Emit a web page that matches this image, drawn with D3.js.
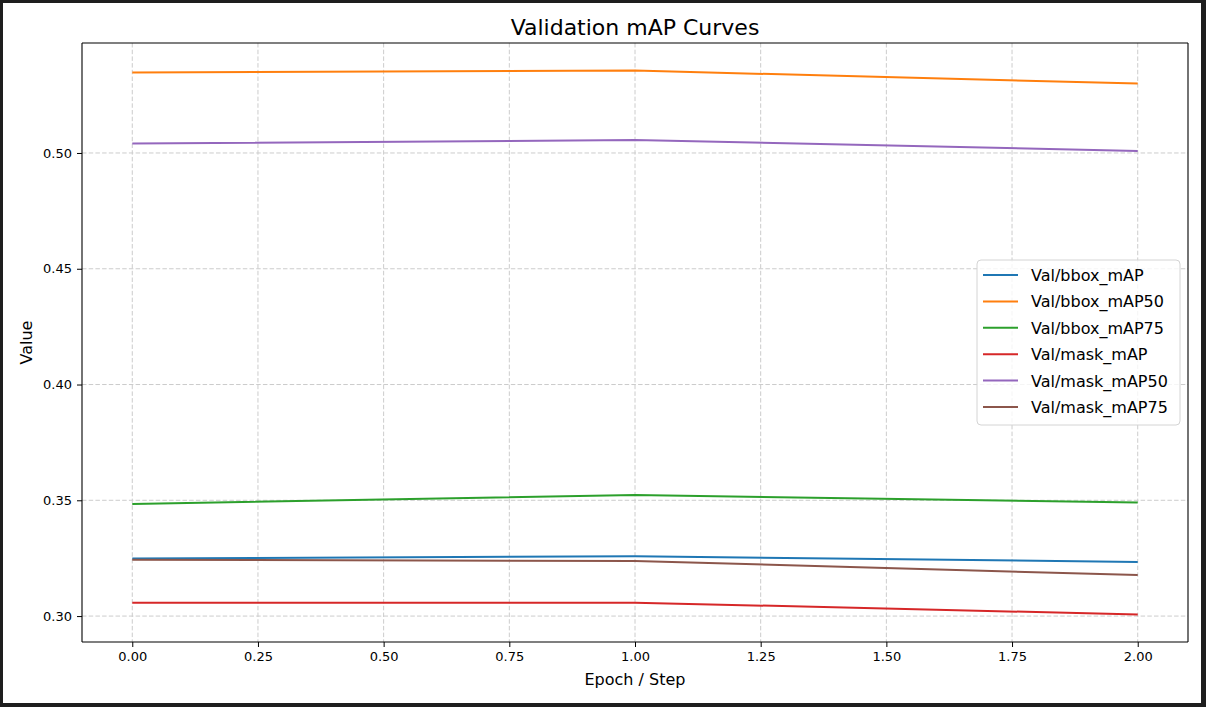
<!DOCTYPE html>
<html>
<head>
<meta charset="utf-8">
<script src="https://cdn.jsdelivr.net/npm/d3@7"></script>
<style>
  html, body { margin: 0; padding: 0; background: #1e1e1e; width: 1206px; height: 707px; overflow: hidden; }
  svg { display: block; position: absolute; left: 3px; top: 3px; background: #ffffff; font-family: "DejaVu Sans", sans-serif; }
</style>
</head>
<body>
<svg id="chart" width="1198" height="700"></svg>
<script>
// Values.
const steps = [0, 1, 2];
const seriesNames = [
  "Val/bbox_mAP", "Val/bbox_mAP50", "Val/bbox_mAP75",
  "Val/mask_mAP", "Val/mask_mAP50", "Val/mask_mAP75"
];
const bboxMAP = [0.3249, 0.3258, 0.3234];
const bboxMAP50 = [0.5348, 0.5356, 0.5300];
const bboxMAP75 = [0.3484, 0.3523, 0.3490];
const maskMAP = [0.3058, 0.3058, 0.3007];
const maskMAP50 = [0.5041, 0.5056, 0.5009];
const maskMAP75 = [0.3243, 0.3238, 0.3177];
const xTicks = [0, 0.25, 0.5, 0.75, 1, 1.25, 1.5, 1.75, 2];
const yTicks = [0.30, 0.35, 0.40, 0.45, 0.50];
const colors = ["#1f77b4", "#ff7f0e", "#2ca02c", "#d62728", "#9467bd", "#8c564b"];

const seriesValues = [bboxMAP, bboxMAP50, bboxMAP75, maskMAP, maskMAP50, maskMAP75];

// svg sits 3px into the page, so page coords minus 3
const margin = { top: 40, bottom: 61, left: 79, right: 13 };
const width = 1198, height = 700;
const innerWidth = width - margin.left - margin.right;
const innerHeight = height - margin.top - margin.bottom;

const svg = d3.select("#chart");

const xScale = d3.scaleLinear().domain([-0.1, 2.1]).range([0, innerWidth]);
const yScale = d3.scaleLinear().domain([0.2888, 0.5475]).range([innerHeight, 0]);

const g = svg.append("g").attr("transform", `translate(${margin.left},${margin.top})`);

// grid
g.append("g")
  .selectAll("line")
  .data(xTicks)
  .join("line")
  .attr("x1", d => xScale(d)).attr("x2", d => xScale(d))
  .attr("y1", 0).attr("y2", innerHeight)
  .attr("stroke", "#cccccc").attr("stroke-width", 1)
  .attr("stroke-dasharray", "4.5,2.2");

g.append("g")
  .selectAll("line")
  .data(yTicks)
  .join("line")
  .attr("x1", 0).attr("x2", innerWidth)
  .attr("y1", d => yScale(d)).attr("y2", d => yScale(d))
  .attr("stroke", "#cccccc").attr("stroke-width", 1)
  .attr("stroke-dasharray", "4.5,2.2");

// lines
const line = d3.line()
  .x((d, i) => xScale(steps[i]))
  .y(d => yScale(d));

g.append("g")
  .selectAll("path")
  .data(seriesValues)
  .join("path")
  .attr("d", d => line(d))
  .attr("fill", "none")
  .attr("stroke", (d, i) => colors[i])
  .attr("stroke-width", 2);

// axes
const xAxis = d3.axisBottom(xScale)
  .tickValues(xTicks)
  .tickFormat(d3.format(".2f"))
  .tickSizeInner(5)
  .tickSizeOuter(0)
  .tickPadding(5);

const yAxis = d3.axisLeft(yScale)
  .tickValues(yTicks)
  .tickFormat(d3.format(".2f"))
  .tickSizeInner(5)
  .tickSizeOuter(0)
  .tickPadding(5);

const gx = g.append("g").attr("transform", `translate(0,${innerHeight})`).call(xAxis);
const gy = g.append("g").call(yAxis);

[gx, gy].forEach(ax => {
  ax.attr("font-family", null).attr("font-size", null);
  ax.select(".domain").remove();
  ax.selectAll("text")
    .style("font-size", "13px")
    .attr("fill", "#000");
  ax.selectAll("line").attr("stroke", "#000").attr("stroke-width", 1);
});

// spines
const spines = g.append("g")
  .attr("stroke", "#000")
  .attr("stroke-width", 1.1);
spines.append("line").attr("x1", 0).attr("x2", innerWidth).attr("y1", 0).attr("y2", 0);
spines.append("line").attr("x1", 0).attr("x2", innerWidth).attr("y1", innerHeight).attr("y2", innerHeight);
spines.append("line").attr("x1", 0).attr("x2", 0).attr("y1", 0).attr("y2", innerHeight);
spines.append("line").attr("x1", innerWidth).attr("x2", innerWidth).attr("y1", 0).attr("y2", innerHeight);

// title and axis labels
svg.append("text")
  .attr("x", margin.left + innerWidth / 2)
  .attr("y", 32)
  .attr("text-anchor", "middle")
  .style("font-size", "22px")
  .attr("fill", "#000")
  .text("Validation mAP Curves");

svg.append("text")
  .attr("x", margin.left + innerWidth / 2)
  .attr("y", 682)
  .attr("text-anchor", "middle")
  .style("font-size", "16px")
  .attr("fill", "#000")
  .text("Epoch / Step");

svg.append("text")
  .attr("transform", `translate(29,${margin.top + innerHeight / 2}) rotate(-90)`)
  .attr("text-anchor", "middle")
  .style("font-size", "16px")
  .attr("fill", "#000")
  .text("Value");

// legend
const legend = svg.append("g").attr("transform", "translate(974,257)");

legend.append("rect")
  .attr("width", 203).attr("height", 165)
  .attr("rx", 4)
  .attr("fill", "#ffffff").attr("fill-opacity", 0.8)
  .attr("stroke", "#d4d4d4").attr("stroke-width", 1);

const rows = legend.selectAll("g.row")
  .data(seriesNames)
  .join("g")
  .attr("class", "row")
  .attr("transform", (d, i) => `translate(0,${15 + i * 26.4})`);

rows.append("line")
  .attr("x1", 6).attr("x2", 41)
  .attr("stroke", (d, i) => colors[i])
  .attr("stroke-width", 2);

rows.append("text")
  .attr("x", 54)
  .attr("y", 6)
  .style("font-size", "16px")
  .attr("fill", "#000")
  .text(d => d);
</script>
</body>
</html>
